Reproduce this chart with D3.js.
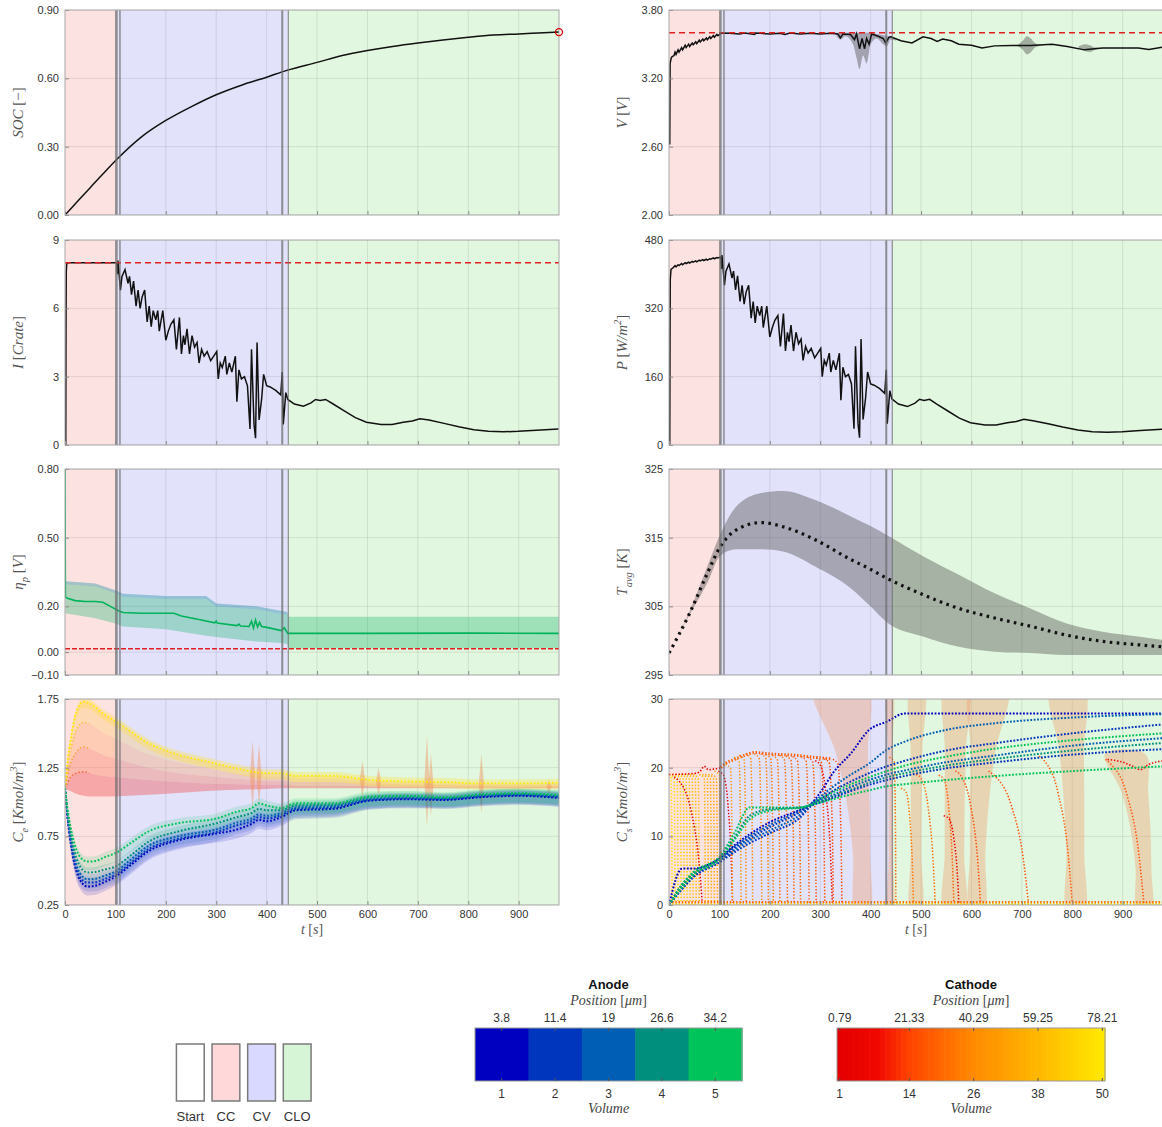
<!DOCTYPE html>
<html>
<head>
<meta charset="utf-8">
<script src="https://cdn.jsdelivr.net/npm/d3@7"></script>
<style>
body { margin: 0; background: #fff; }
</style>
</head>
<body>
<svg id="chart" width="1162" height="1127"></svg>
<script>
// ---------- data ----------
const tEnd = 980
const xTicks = [0, 100, 200, 300, 400, 500, 600, 700, 800, 900]
const phaseNames = ['CC', 'CV', 'CLO']
const phaseStart = [0, 102, 443]
const phaseEnd = [102, 443, 980]
const switchT = [102, 109, 431, 443]

// state of charge
const socT = [0, 25, 50, 75, 103, 150, 200, 250, 300, 350, 400, 440, 500, 550, 600, 650, 700, 750, 800, 850, 900, 950, 980]
const soc = [0, 0.06, 0.12, 0.18, 0.245, 0.34, 0.415, 0.475, 0.528, 0.57, 0.605, 0.635, 0.67, 0.70, 0.722, 0.74, 0.755, 0.768, 0.78, 0.79, 0.795, 0.80, 0.803]

// voltage
const vLimit = 3.60
const vT = [1.5, 1.8, 2.2, 3.5, 5, 8, 10, 12, 14, 18, 20, 25, 27, 32, 34, 39, 41, 46, 48, 53, 55, 60, 62, 67, 69, 74, 76, 81, 83, 88, 90, 95, 97, 103, 105, 120, 140, 150, 170, 172, 200, 220, 230, 240, 260, 280, 300, 320, 335, 340, 345, 360, 368, 372, 378, 383, 388, 392, 397, 402, 415, 425, 430, 436, 440, 460, 482, 504, 520, 532, 543, 560, 575, 600, 621, 646, 680, 717, 760, 790, 824, 860, 900, 931, 952, 980]
const vV = [2.62, 3.0, 3.33, 3.36, 3.385, 3.395, 3.40, 3.43, 3.41, 3.45, 3.43, 3.47, 3.45, 3.49, 3.47, 3.50, 3.48, 3.51, 3.495, 3.52, 3.505, 3.535, 3.52, 3.545, 3.53, 3.555, 3.54, 3.565, 3.55, 3.575, 3.56, 3.585, 3.575, 3.595, 3.597, 3.595, 3.59, 3.597, 3.585, 3.597, 3.59, 3.595, 3.585, 3.597, 3.59, 3.595, 3.59, 3.595, 3.59, 3.555, 3.59, 3.585, 3.54, 3.59, 3.46, 3.55, 3.46, 3.55, 3.50, 3.59, 3.57, 3.55, 3.51, 3.56, 3.565, 3.53, 3.51, 3.565, 3.55, 3.525, 3.545, 3.53, 3.50, 3.49, 3.467, 3.485, 3.488, 3.488, 3.50, 3.48, 3.45, 3.466, 3.466, 3.466, 3.453, 3.475]
const vBandT = [330, 340, 350, 365, 372, 378, 385, 392, 400, 412, 425, 432, 440, 450, null, 690, 702, 710, 718, 726, 740, null, 812, 825, 835, 845, 858]
const vBandLo = [3.59, 3.54, 3.57, 3.50, 3.38, 3.28, 3.40, 3.33, 3.50, 3.55, 3.50, 3.48, 3.54, 3.53, null, 3.488, 3.45, 3.41, 3.43, 3.47, 3.488, null, 3.47, 3.44, 3.43, 3.45, 3.466]
const vBandHi = [3.60, 3.60, 3.60, 3.60, 3.60, 3.60, 3.60, 3.60, 3.60, 3.59, 3.58, 3.57, 3.57, 3.54, null, 3.49, 3.53, 3.57, 3.55, 3.51, 3.49, null, 3.48, 3.50, 3.49, 3.47, 3.466]

// current
const iLimit = 8
const iT = [1.5, 2, 2.5, 3.5, 5, 50, 100, 103, 104, 105, 107, 110, 113, 119, 125, 128, 132, 136, 141, 145, 149, 153, 158, 163, 167, 171, 175, 180, 184, 187, 194, 200, 205, 210, 216, 221, 227, 231, 235, 238, 242, 247, 252, 257, 262, 266, 271, 276, 282, 289, 295, 301, 304, 308, 312, 318, 321, 326, 331, 335, 338, 341, 345, 350, 356, 362, 367, 370, 375, 378, 381, 385, 390, 394, 400, 407, 418, 428, 431, 433, 438, 442, 455, 473, 488, 497, 506, 517, 532, 554, 576, 598, 627, 649, 671, 689, 704, 722, 752, 781, 811, 840, 869, 899, 935, 979]
const iV = [0, 5.5, 7.6, 7.95, 8.0, 8.0, 8.0, 8.0, 7.5, 8.1, 7.6, 6.8, 7.4, 7.7, 7.1, 7.4, 6.6, 7.2, 6.1, 6.8, 6.0, 6.5, 6.8, 5.4, 6.1, 5.2, 5.9, 5.5, 5.9, 5.0, 5.9, 4.6, 5.0, 5.3, 5.5, 4.2, 5.6, 4.0, 4.8, 4.4, 5.1, 4.0, 4.8, 4.3, 4.5, 3.6, 4.2, 3.9, 4.1, 3.7, 3.9, 4.1, 2.9, 3.6, 3.4, 3.9, 3.1, 3.6, 3.2, 3.6, 3.9, 1.9, 3.3, 2.9, 3.0, 2.6, 0.7, 4.2, 0.9, 0.3, 4.5, 1.1, 2.0, 3.1, 2.6, 2.55, 2.4, 2.2, 3.2, 0.9, 2.3, 2.0, 1.8, 1.7, 1.85, 2.0, 1.95, 2.0, 1.8, 1.5, 1.2, 1.0, 0.9, 0.9, 1.0, 1.05, 1.15, 1.1, 0.95, 0.8, 0.67, 0.6, 0.58, 0.6, 0.65, 0.7]

// power density
const pT = [1.5, 2, 2.5, 4, 8, 12, 14, 18, 20, 25, 27, 32, 34, 39, 41, 46, 48, 53, 55, 60, 62, 67, 69, 74, 76, 81, 83, 88, 90, 95, 97, 103, 104, 105, 107, 110, 113, 119, 125, 128, 132, 136, 141, 145, 149, 153, 158, 163, 167, 171, 175, 180, 184, 187, 194, 200, 205, 210, 216, 221, 227, 231, 235, 238, 242, 247, 252, 257, 262, 266, 271, 276, 282, 289, 295, 301, 304, 308, 312, 318, 321, 326, 331, 335, 338, 341, 345, 350, 356, 362, 367, 370, 375, 378, 381, 385, 390, 394, 400, 407, 418, 428, 431, 433, 438, 442, 455, 473, 488, 497, 506, 517, 532, 554, 576, 598, 627, 649, 671, 689, 704, 722, 752, 781, 811, 840, 869, 899, 935, 979]
const pV = [0, 252, 387, 411, 415, 420, 417, 422, 420, 425, 422, 427, 425, 428, 426, 430, 428, 431, 429, 433, 431, 434, 432, 435, 433, 436, 435, 438, 436, 439, 438, 440, 412, 445, 418, 374, 407, 424, 391, 407, 363, 396, 336, 374, 330, 358, 374, 297, 336, 286, 325, 303, 325, 275, 325, 253, 275, 292, 303, 231, 308, 220, 264, 242, 281, 220, 264, 237, 248, 198, 231, 215, 226, 204, 215, 226, 160, 198, 187, 215, 171, 198, 176, 198, 215, 105, 182, 160, 165, 143, 38, 231, 50, 17, 248, 60, 110, 171, 143, 140, 132, 121, 176, 50, 127, 108, 96, 90, 98, 107, 104, 107, 95, 79, 63, 52, 47, 47, 52, 55, 60, 57, 50, 42, 35, 31, 30, 31, 34, 37]

// overpotential
const etaLimit = 0.015
const etaT = [0, 0.8, 5, 20, 40, 60, 75, 90, 105, 115, 150, 216, 231, 268, 297, 300, 302, 341, 345, 348, 365, 370, 374, 378, 382, 386, 390, 400, 429, 435, 442, 600, 800, 980]
const etaV = [0.80, 0.24, 0.235, 0.225, 0.221, 0.221, 0.218, 0.20, 0.182, 0.173, 0.170, 0.170, 0.158, 0.141, 0.128, 0.135, 0.127, 0.116, 0.122, 0.114, 0.112, 0.135, 0.105, 0.14, 0.11, 0.13, 0.112, 0.108, 0.094, 0.106, 0.082, 0.082, 0.083, 0.082]
const etaBandT = [0.8, 60, 100, 115, 200, 280, 300, 380, 430, 441, 443, 980]
const etaBandHi = [0.31, 0.30, 0.27, 0.255, 0.245, 0.245, 0.212, 0.20, 0.18, 0.175, 0.155, 0.155]
const etaBandLo = [0.17, 0.148, 0.125, 0.112, 0.10, 0.072, 0.066, 0.046, 0.04, 0.035, 0.017, 0.017]

// average temperature
const tempT = [0, 41, 76, 101, 133, 183, 226, 290, 361, 397, 432, 504, 575, 646, 717, 789, 860, 931, 980]
const tempAvg = [298.2, 304.0, 309.8, 313.6, 316.1, 317.2, 316.6, 314.7, 311.8, 310.5, 309.1, 306.7, 304.7, 303.3, 302.1, 300.8, 299.9, 299.4, 299.1]
const tempHi = [298.2, 304.3, 310.8, 315.4, 319.5, 321.5, 321.8, 320.5, 318.1, 316.8, 315.4, 312.3, 309.6, 306.9, 304.7, 302.5, 301.3, 300.6, 300.1]
const tempLo = [298.2, 303.8, 308.4, 312.3, 313.3, 313.3, 313.0, 310.8, 307.6, 305.2, 302.7, 300.6, 299.1, 298.4, 298.2, 297.9, 297.9, 297.9, 297.9]

// electrolyte concentration, cathode volumes 1, 14, 26, 38, 50
const ceT = [0, 5, 11, 22, 37, 48, 77, 106, 165, 224, 282, 341, 400, 429, 458, 532, 605, 679, 752, 825, 899, 980]
const ceCathVol = [1, 14, 26, 38, 50]
const ceC1 = [1.10, 1.09, 1.08, 1.06, 1.045, 1.04, 1.04, 1.042, 1.052, 1.065, 1.08, 1.09, 1.095, 1.10, 1.10, 1.10, 1.10, 1.10, 1.10, 1.10, 1.10, 1.10]
const ceC14 = [1.10, 1.14, 1.18, 1.21, 1.22, 1.21, 1.19, 1.18, 1.16, 1.145, 1.135, 1.13, 1.125, 1.125, 1.12, 1.12, 1.115, 1.115, 1.11, 1.11, 1.11, 1.11]
const ceC26 = [1.10, 1.20, 1.28, 1.36, 1.40, 1.39, 1.34, 1.31, 1.25, 1.21, 1.19, 1.17, 1.155, 1.155, 1.145, 1.145, 1.135, 1.13, 1.125, 1.12, 1.12, 1.12]
const ceC38 = [1.10, 1.25, 1.37, 1.52, 1.58, 1.57, 1.50, 1.45, 1.35, 1.29, 1.25, 1.21, 1.185, 1.185, 1.17, 1.17, 1.15, 1.14, 1.135, 1.13, 1.13, 1.13]
const ceC50 = [1.10, 1.30, 1.45, 1.65, 1.73, 1.72, 1.64, 1.575, 1.43, 1.345, 1.295, 1.245, 1.21, 1.21, 1.19, 1.19, 1.16, 1.15, 1.145, 1.135, 1.135, 1.14]
const ceSpikeT = [372, 385, 590, 622, 718, 726, 826, 960]
const ceSpikeHi = [1.45, 1.42, 1.30, 1.25, 1.48, 1.35, 1.35, 1.16]
const ceSpikeLo = [0.95, 0.98, 1.03, 1.05, 0.82, 0.90, 0.92, 1.06]
// electrolyte concentration, anode volumes 1..5
const ceAT = [0, 5, 15, 30, 45, 60, 80, 100, 130, 165, 224, 300, 341, 370, 385, 400, 429, 458, 532, 605, 679, 752, 825, 899, 980]
const ceA1 = [1.10, 0.89, 0.62, 0.43, 0.384, 0.39, 0.42, 0.456, 0.54, 0.64, 0.72, 0.77, 0.80, 0.84, 0.87, 0.86, 0.89, 0.94, 0.95, 1.01, 1.02, 1.015, 1.035, 1.045, 1.03]
const ceA2 = [1.10, 0.90, 0.64, 0.45, 0.413, 0.415, 0.44, 0.47, 0.555, 0.655, 0.73, 0.78, 0.83, 0.86, 0.89, 0.88, 0.905, 0.95, 0.96, 1.015, 1.025, 1.02, 1.04, 1.05, 1.035]
const ceA3 = [1.10, 0.91, 0.66, 0.48, 0.437, 0.44, 0.465, 0.493, 0.58, 0.68, 0.75, 0.80, 0.85, 0.88, 0.91, 0.90, 0.92, 0.96, 0.97, 1.02, 1.03, 1.025, 1.045, 1.055, 1.04]
const ceA4 = [1.10, 0.93, 0.70, 0.53, 0.486, 0.49, 0.51, 0.53, 0.61, 0.71, 0.785, 0.845, 0.89, 0.92, 0.95, 0.94, 0.94, 0.975, 0.98, 1.03, 1.04, 1.03, 1.05, 1.06, 1.045]
const ceA5 = [1.10, 0.95, 0.75, 0.60, 0.566, 0.57, 0.60, 0.627, 0.70, 0.785, 0.845, 0.88, 0.93, 0.955, 0.99, 0.975, 0.955, 0.99, 0.99, 1.04, 1.045, 1.035, 1.057, 1.064, 1.052]

// solid concentration, anode
const csAT = [0, 26, 48, 100, 130, 160, 204, 261, 280, 304, 325, 361, 397, 432, 468, 550, 650, 800, 980]
const csAnodeVol = [1, 3, 2, 5, 3, 4, 2, 5]
const csA1 = [0, 5.3, 5.3, 6.8, 8.7, 10.3, 12.2, 13.9, 14.6, 16.8, 19.2, 22.1, 25.5, 26.7, 27.9, 27.9, 27.9, 27.9, 27.9]
const csA2 = [0, 3.0, 4.6, 6.7, 8.5, 10.0, 11.8, 13.8, 14.6, 16.0, 17.2, 19.0, 20.6, 22.6, 23.8, 25.5, 26.5, 27.3, 27.8]
const csA3 = [0, 2.8, 4.4, 6.5, 8.3, 9.7, 11.5, 13.6, 14.5, 15.6, 16.6, 18.0, 19.2, 20.2, 21.0, 22.5, 23.6, 25.0, 26.3]
const csA4 = [0, 3.0, 4.8, 7.0, 10.5, 14.2, 14.2, 14.2, 14.6, 15.6, 16.4, 17.6, 18.6, 19.5, 20.3, 21.6, 22.8, 24.0, 25.0]
const csA5 = [0, 2.5, 4.2, 6.4, 8.0, 9.4, 11.0, 13.2, 14.4, 15.3, 16.0, 17.2, 18.2, 19.0, 19.6, 20.8, 21.8, 23.2, 24.3]
const csA6 = [0, 2.7, 4.5, 6.8, 9.8, 13.0, 14.0, 14.2, 14.5, 15.2, 15.8, 16.8, 17.8, 18.6, 19.2, 20.3, 21.3, 22.5, 23.6]
const csA7 = [0, 2.3, 4.0, 6.2, 7.7, 9.0, 10.6, 12.8, 14.3, 15.0, 15.6, 16.6, 17.5, 18.2, 18.8, 19.9, 20.8, 21.9, 22.7]
const csA8 = [0, 2.6, 4.4, 6.6, 9.5, 12.5, 13.8, 14.2, 14.5, 15.0, 15.4, 16.1, 16.7, 17.3, 17.6, 18.2, 18.8, 19.5, 20.2]
// solid concentration, cathode: each line holds a level, then collapses
const csDropT = [4, 10, 16, 22, 28, 34, 40, 46, 52, 58, 20, 70, 76, 82, 88, 94, 100, 108, 122, 139, 149, 162, 179, 192, 202, 215, 229, 242, 255, 272, 285, 300, 302, 318, 335, 447, 470, 500, 545, 555, 578, 644, 744, 876]
const csDropDur = [2, 2, 2, 2, 2, 2, 2, 2, 2, 2, 46, 2, 2, 2, 2, 2, 3, 18, 4, 4, 4, 4, 5, 5, 5, 5, 6, 6, 6, 6, 7, 24, 7, 8, 8, 3, 15, 28, 20, 20, 40, 69, 56, 66]
const csDropLvl = [19, 19, 19, 19, 19, 19, 19, 19, 19, 19, 18.6, 19, 19, 19, 19, 19, 19.5, 19.5, 20.5, 21.5, 21.8, 22, 22, 22, 21.9, 21.8, 21.8, 21.7, 21.6, 21.6, 21.5, 21, 21.4, 21.3, 21.2, 21.5, 17, 19, 18.9, 13, 19.5, 19.5, 21.7, 21.2]
const csDropVol = [50, 48, 46, 45, 44, 43, 42, 41, 40, 39, 1, 38, 37, 36, 35, 34, 33, 3, 30, 28, 27, 26, 25, 24, 23, 22, 21, 20, 19, 18, 17, 6, 16, 15, 14, 20, 22, 20, 18, 3, 15, 16, 18, 16]
// spread bands of the cathode lines: centre at top / bottom and width at top / bottom
const csBandTop = [340, 438, 492, 570, 635, 790, 905]
const csBandBot = [384, 440, 490, 566, 611, 807, 943]
const csBandWTop = [105, 10, 26, 45, 73, 66, 80]
const csBandWBot = [26, 8, 20, 38, 26, 32, 26]
const csBandYTop = [30, 30, 30, 30, 30, 30, 22]
const csTopCCT = [0, 55, 62, 70, 78, 90, 103]
const csTopCCV = [19, 19.2, 19.5, 20.2, 19.7, 19.8, 20.0]
const csTopCVT = [103, 110, 130, 150, 170, 200, 250, 290, 320]
const csTopCVV = [20.0, 20.5, 21.2, 21.8, 22.2, 22.0, 21.8, 21.5, 21.3]
const csRedT = [870, 900, 920, 935, 950, 980]
const csRedV = [21.2, 20.8, 20.2, 19.7, 20.4, 21.0]
const csFloorT = [0, 980]
const csFloorA = [0.4, 0.4]
const csFloorB = [0.15, 0.15]

// legends
const legendNames = ['Start', 'CC', 'CV', 'CLO']
const anodeVol = [1, 2, 3, 4, 5]
const anodePos = ['3.8', '11.4', '19', '26.6', '34.2']
const cathVols = d3.range(1, 51)
const cathTickVol = [1, 14, 26, 38, 50]
const cathPos = ['0.79', '21.33', '40.29', '59.25', '78.21']

// ---------- styles ----------
const sans = "'Liberation Sans', Arial, sans-serif"
const serif = "'Liberation Serif', 'Times New Roman', serif"
const bgFill = ['#fde2e2', '#e2e2fb', '#e2f7df']
const legendFill = ['#ffffff', '#ffd9d9', '#d9d9ff', '#d6f5d6']
const swWidth = [2.5, 1.5, 2, 1.2]
const anodeColor = ['#0000c0', '#0035bd', '#005fb5', '#008f7c', '#00c35a']
const cathColor = d3.scaleLinear()
    .domain([1, 8, 14, 26, 38, 50])
    .range(['#e40000', '#f00800', '#ff4400', '#ff8a00', '#ffb800', '#ffe800'])
const ceFill = ['#f06060', '#f88060', '#ffa060', '#ffc860']
const ceFillOpacity = [0.45, 0.4, 0.35, 0.35]

const svg = d3.select('#chart')
const panelW = 494
const colX = [65, 669]
const rowY = [[10, 215], [240, 445], [469, 675], [699, 905]]

function makePanel(col, row, yDomain, yTicks) {
    const top = rowY[row][0]
    const bottom = rowY[row][1]
    const left = colX[col]
    const x = d3.scaleLinear().domain([0, tEnd]).range([left, left + panelW])
    const y = d3.scaleLinear().domain(yDomain).range([bottom, top])
    const g = svg.append('g')
    const id = 'clip-' + col + '-' + row
    g.append('clipPath').attr('id', id).append('rect')
        .attr('x', left).attr('y', top).attr('width', panelW).attr('height', bottom - top)
    const body = g.append('g').attr('clip-path', 'url(#' + id + ')')
    body.append('g').selectAll('rect').data(phaseStart).join('rect')
        .attr('x', (d) => x(d))
        .attr('width', (d, i) => x(phaseEnd[i]) - x(d))
        .attr('y', top).attr('height', bottom - top)
        .attr('fill', (d, i) => bgFill[i])
    const grid = body.append('g').attr('stroke', '#000').attr('stroke-opacity', 0.09)
    grid.selectAll('line.gx').data(xTicks.slice(1)).join('line')
        .attr('x1', (d) => x(d)).attr('x2', (d) => x(d))
        .attr('y1', top).attr('y2', bottom)
    grid.selectAll('line.gy').data(yTicks).join('line')
        .attr('y1', (d) => y(d)).attr('y2', (d) => y(d))
        .attr('x1', left).attr('x2', left + panelW)
    return { x, y, g, body, top, bottom, left, col, row, yTicks }
}

function mathText(text, parts, size) {
    let shift = 0
    parts.forEach(([s, st]) => {
        const ts = text.append('tspan').text(s)
        let target = 0
        if (st === 'sub') target = size * 0.3
        if (st === 'sup') target = -size * 0.4
        if (target - shift !== 0) ts.attr('dy', target - shift)
        shift = target
        ts.attr('font-style', st === 'n' ? 'normal' : 'italic')
        if (st === 'sub' || st === 'sup') ts.attr('font-size', size * 0.7)
    })
}

function finishPanel(p, fmt, label, showX) {
    p.body.append('g').selectAll('line').data(switchT).join('line')
        .attr('x1', (d) => p.x(d)).attr('x2', (d) => p.x(d))
        .attr('y1', p.top).attr('y2', p.bottom)
        .attr('stroke', '#6e6e6e').attr('stroke-opacity', 0.75)
        .attr('stroke-width', (d, i) => swWidth[i])

    const ay = p.g.append('g').attr('transform', 'translate(' + p.left + ',0)')
        .call(d3.axisLeft(p.y).tickValues(p.yTicks).tickFormat(fmt).tickSizeInner(-4).tickSizeOuter(0).tickPadding(6))
    ay.select('.domain').remove()
    ay.selectAll('line').attr('stroke', '#8a8a8a')
    ay.selectAll('text').attr('font-family', sans).attr('font-size', 11).attr('fill', '#333')

    const ax = p.g.append('g').attr('transform', 'translate(0,' + p.bottom + ')')
        .call(d3.axisBottom(p.x).tickValues(xTicks)
            .tickFormat(showX ? d3.format('d') : () => '')
            .tickSizeInner(-4).tickSizeOuter(0).tickPadding(5))
    ax.select('.domain').remove()
    ax.selectAll('line').attr('stroke', '#8a8a8a')
    ax.selectAll('text').attr('font-family', sans).attr('font-size', 11).attr('fill', '#333')

    p.g.append('rect')
        .attr('x', p.left).attr('y', p.top)
        .attr('width', panelW).attr('height', p.bottom - p.top)
        .attr('fill', 'none').attr('stroke', '#a8a8a8').attr('stroke-width', 1)

    const lt = p.g.append('text')
        .attr('transform', 'translate(' + (p.left - 42) + ',' + ((p.top + p.bottom) / 2) + ') rotate(-90)')
        .attr('text-anchor', 'middle')
        .attr('font-family', serif).attr('font-size', 15).attr('fill', '#555')
    mathText(lt, label, 15)

    if (showX) {
        const xt = p.g.append('text')
            .attr('x', p.left + panelW / 2).attr('y', p.bottom + 29)
            .attr('text-anchor', 'middle')
            .attr('font-family', serif).attr('font-size', 14).attr('fill', '#555')
        mathText(xt, [['t', 'i'], [' [', 'n'], ['s', 'i'], [']', 'n']], 14)
    }
}

function zip(ts, vs) {
    return ts.map((t, i) => [t, vs[i]])
}

function hLine(p, value, dash) {
    p.body.append('path')
        .datum([[0, value], [tEnd, value]])
        .attr('d', d3.line().x((d) => p.x(d[0])).y((d) => p.y(d[1])))
        .attr('fill', 'none').attr('stroke', '#e02020')
        .attr('stroke-width', 1.5).attr('stroke-dasharray', dash)
}

const f2 = d3.format('.2f')
const f0 = d3.format('d')

// ---------- SOC ----------
{
    const p = makePanel(0, 0, [0, 0.9], [0, 0.3, 0.6, 0.9])
    const line = d3.line().x((d) => p.x(d[0])).y((d) => p.y(d[1])).curve(d3.curveMonotoneX)
    p.body.append('path').datum(zip(socT, soc)).attr('d', line)
        .attr('fill', 'none').attr('stroke', '#111').attr('stroke-width', 1.5)
    finishPanel(p, f2, [['SOC', 'i'], [' [', 'n'], ['\u2212', 'n'], [']', 'n']], false)
    p.g.append('circle')
        .attr('cx', p.x(socT[socT.length - 1])).attr('cy', p.y(soc[soc.length - 1]))
        .attr('r', 3.5).attr('fill', 'none').attr('stroke', '#e00000').attr('stroke-width', 1.3)
}

// ---------- V ----------
{
    const p = makePanel(1, 0, [2.0, 3.8], [2.0, 2.6, 3.2, 3.8])
    const area = d3.area().defined((d) => d[0] !== null)
        .x((d) => p.x(d[0])).y0((d) => p.y(d[1])).y1((d) => p.y(d[2])).curve(d3.curveMonotoneX)
    p.body.append('path').datum(vBandT.map((t, i) => [t, vBandLo[i], vBandHi[i]])).attr('d', area)
        .attr('fill', '#3a3a3a').attr('fill-opacity', 0.38)
    const line = d3.line().x((d) => p.x(d[0])).y((d) => p.y(d[1]))
    p.body.append('path').datum(zip(vT, vV)).attr('d', line)
        .attr('fill', 'none').attr('stroke', '#111').attr('stroke-width', 1.5)
    hLine(p, vLimit, '6,4')
    finishPanel(p, f2, [['V', 'i'], [' [', 'n'], ['V', 'i'], [']', 'n']], false)
}

// ---------- I ----------
{
    const p = makePanel(0, 1, [0, 9], [0, 3, 6, 9])
    const line = d3.line().x((d) => p.x(d[0])).y((d) => p.y(d[1]))
    p.body.append('path').datum(zip(iT, iV)).attr('d', line)
        .attr('fill', 'none').attr('stroke', '#111').attr('stroke-width', 1.5)
    hLine(p, iLimit, '6,4')
    finishPanel(p, f0, [['I', 'i'], [' [', 'n'], ['Crate', 'i'], [']', 'n']], false)
}

// ---------- P ----------
{
    const p = makePanel(1, 1, [0, 480], [0, 160, 320, 480])
    const line = d3.line().x((d) => p.x(d[0])).y((d) => p.y(d[1]))
    p.body.append('path').datum(zip(pT, pV)).attr('d', line)
        .attr('fill', 'none').attr('stroke', '#111').attr('stroke-width', 1.5)
    finishPanel(p, f0, [['P', 'i'], [' [', 'n'], ['W/m', 'i'], ['2', 'sup'], [']', 'n']], false)
}

// ---------- eta ----------
{
    const p = makePanel(0, 2, [-0.1, 0.8], [-0.1, 0, 0.2, 0.5, 0.8])
    const band = etaBandT.map((t, i) => [t, etaBandLo[i], etaBandHi[i]])
    const area = d3.area().x((d) => p.x(d[0])).y0((d) => p.y(d[1])).y1((d) => p.y(d[2]))
    p.body.append('path').datum(band).attr('d', area)
        .attr('fill', '#00b060').attr('fill-opacity', 0.3)
    const fringe = d3.area().x((d) => p.x(d[0])).y0((d) => p.y(d[2]) + 3).y1((d) => p.y(d[2]))
    p.body.append('path').datum(band.filter((d) => d[0] < 443)).attr('d', fringe)
        .attr('fill', '#6a70ff').attr('fill-opacity', 0.18)
    const line = d3.line().x((d) => p.x(d[0])).y((d) => p.y(d[1]))
    p.body.append('path').datum(zip(etaT, etaV)).attr('d', line)
        .attr('fill', 'none').attr('stroke', '#00b35a').attr('stroke-width', 1.6)
    hLine(p, etaLimit, '5,2')
    finishPanel(p, f2, [['\u03B7', 'i'], ['p', 'sub'], [' [', 'n'], ['V', 'i'], [']', 'n']], false)
}

// ---------- T ----------
{
    const p = makePanel(1, 2, [295, 325], [295, 305, 315, 325])
    const area = d3.area().x((d, i) => p.x(tempT[i])).y0((d, i) => p.y(tempLo[i])).y1((d, i) => p.y(tempHi[i]))
        .curve(d3.curveMonotoneX)
    p.body.append('path').datum(tempT).attr('d', area)
        .attr('fill', '#4a4a4a').attr('fill-opacity', 0.4)
    const line = d3.line().x((d) => p.x(d[0])).y((d) => p.y(d[1])).curve(d3.curveMonotoneX)
    p.body.append('path').datum(zip(tempT, tempAvg)).attr('d', line)
        .attr('fill', 'none').attr('stroke', '#111').attr('stroke-width', 3.2)
        .attr('stroke-dasharray', '2.6,4.4')
    finishPanel(p, f0, [['T', 'i'], ['avg', 'sub'], [' [', 'n'], ['K', 'i'], [']', 'n']], false)
}

// ---------- Ce ----------
{
    const p = makePanel(0, 3, [0.25, 1.75], [0.25, 0.75, 1.25, 1.75])
    const cath = [ceC1, ceC14, ceC26, ceC38, ceC50]
    const between = (lo, hi) => d3.area().x((d, i) => p.x(ceT[i]))
        .y0((d, i) => p.y(lo[i])).y1((d, i) => p.y(hi[i])).curve(d3.curveMonotoneX)
    for (let k = 0; k < cath.length - 1; k++) {
        p.body.append('path').datum(ceT).attr('d', between(cath[k], cath[k + 1]))
            .attr('fill', ceFill[k]).attr('fill-opacity', ceFillOpacity[k])
    }
    const topBand = d3.area().x((d, i) => p.x(ceT[i]))
        .y0((d, i) => p.y(ceC50[i]) + 6).y1((d, i) => p.y(ceC50[i]) - 4).curve(d3.curveMonotoneX)
    p.body.append('path').datum(ceT).attr('d', topBand)
        .attr('fill', '#ffe040').attr('fill-opacity', 0.35)
    p.body.append('g').selectAll('path').data(ceSpikeT).join('path')
        .attr('d', (t, i) => {
            const mid = (ceSpikeHi[i] + ceSpikeLo[i]) / 2
            return 'M' + p.x(t - 5) + ',' + p.y(mid) + 'L' + p.x(t) + ',' + p.y(ceSpikeHi[i]) +
                'L' + p.x(t + 5) + ',' + p.y(mid) + 'L' + p.x(t) + ',' + p.y(ceSpikeLo[i]) + 'Z'
        })
        .attr('fill', '#f0905a').attr('fill-opacity', 0.45)
    const line = d3.line().x((d) => p.x(d[0])).y((d) => p.y(d[1])).curve(d3.curveMonotoneX)
    // early fan of the cathode volumes, then the outermost volume only
    cath.slice(1, 4).forEach((arr, k) => {
        p.body.append('path').datum(zip(ceT, arr).filter((d) => d[0] <= 48)).attr('d', line)
            .attr('fill', 'none').attr('stroke', cathColor(ceCathVol[k + 1]))
            .attr('stroke-width', 1.6).attr('stroke-dasharray', '1.6,2').attr('stroke-opacity', 0.6)
    })
    p.body.append('path').datum(zip(ceT, ceC50)).attr('d', line)
        .attr('fill', 'none').attr('stroke', cathColor(50))
        .attr('stroke-width', 1.8).attr('stroke-dasharray', '1.6,2')
    const anode = [ceA1, ceA2, ceA3, ceA4, ceA5]
    anode.forEach((arr, k) => {
        const band = d3.area().x((d, i) => p.x(ceAT[i]))
            .y0((d, i) => p.y(arr[i]) + 9).y1((d, i) => p.y(arr[i]) - 5).curve(d3.curveMonotoneX)
        p.body.append('path').datum(ceAT).attr('d', band)
            .attr('fill', anodeColor[k]).attr('fill-opacity', 0.14)
    })
    anode.forEach((arr, k) => {
        p.body.append('path').datum(zip(ceAT, arr)).attr('d', line)
            .attr('fill', 'none').attr('stroke', anodeColor[k])
            .attr('stroke-width', 2).attr('stroke-dasharray', '1.8,1.8')
    })
    finishPanel(p, f2, [['C', 'i'], ['e', 'sub'], [' [', 'n'], ['Kmol/m', 'i'], ['3', 'sup'], [']', 'n']], true)
}

// ---------- Cs ----------
{
    const p = makePanel(1, 3, [0, 30], [0, 10, 20, 30])
    const poly = d3.line().x((d) => p.x(d[0])).y((d) => p.y(d[1])).curve(d3.curveCatmullRomClosed.alpha(0.5))
    const rowF = [0, 0.25, 0.5, 0.75, 1]
    const shiftF = [0, 0.5, 0.8, 0.95, 1]
    const widthF = [1, 0.5, 0.25, 0.1, 0]
    p.body.append('g').selectAll('path').data(csBandTop).join('path')
        .attr('d', (t0, i) => {
            const t1 = csBandBot[i]
            const rows = rowF.map((f, k) => {
                const c = t0 + shiftF[k] * (t1 - t0)
                const h = (csBandWBot[i] + widthF[k] * (csBandWTop[i] - csBandWBot[i])) / 2
                // end rows pushed past the frame so the clip gives straight edges
                const yy = k === 0 && csBandYTop[i] === 30 ? 31.5 : (k === 4 ? -1.5 : csBandYTop[i] * (1 - f))
                return [c - h, c + h, yy]
            })
            const pts = rows.map((r) => [r[0], r[2]]).concat(rows.slice().reverse().map((r) => [r[1], r[2]]))
            return poly(pts)
        })
        .attr('fill', '#f0a070').attr('fill-opacity', 0.4)

    const curve = d3.line().x((d) => p.x(d[0])).y((d) => p.y(d[1])).curve(d3.curveMonotoneX)
    p.body.append('g').selectAll('path').data(csDropT).join('path')
        .attr('d', (t0, i) => {
            const d = csDropDur[i]
            const lvl = csDropLvl[i]
            return curve([[Math.max(0, t0 - 10), lvl], [t0, lvl * 0.97], [t0 + 0.5 * d, lvl * 0.75],
                [t0 + 0.85 * d, lvl * 0.35], [t0 + d, 0.3]])
        })
        .attr('fill', 'none').attr('stroke', (t0, i) => cathColor(csDropVol[i]))
        .attr('stroke-width', 1.5).attr('stroke-dasharray', '1.4,1.8')

    const dotted = (ts, vs, color, w) => p.body.append('path').datum(zip(ts, vs)).attr('d', curve)
        .attr('fill', 'none').attr('stroke', color)
        .attr('stroke-width', w).attr('stroke-dasharray', '1.4,1.8')
    dotted(csTopCCT, csTopCCV, cathColor(1), 1.6)
    dotted(csTopCVT, csTopCVV, cathColor(18), 3)
    dotted(csRedT, csRedV, cathColor(6), 1.6)
    dotted(csFloorT, csFloorA, cathColor(20), 2.5)
    dotted(csFloorT, csFloorB, cathColor(45), 2)

    const anode = [csA1, csA2, csA3, csA4, csA5, csA6, csA7, csA8]
    anode.forEach((arr, k) => {
        p.body.append('path').datum(zip(csAT, arr)).attr('d', curve)
            .attr('fill', 'none').attr('stroke', anodeColor[csAnodeVol[k] - 1])
            .attr('stroke-width', 2).attr('stroke-dasharray', '1.8,1.6')
    })
    finishPanel(p, f0, [['C', 'i'], ['s', 'sub'], [' [', 'n'], ['Kmol/m', 'i'], ['3', 'sup'], [']', 'n']], true)
}

// ---------- phase legend ----------
{
    const lx = d3.scaleBand().domain(legendNames).range([172.5, 315]).paddingInner(0.22).paddingOuter(0.11)
    const lg = svg.append('g')
    lg.selectAll('rect').data(legendNames).join('rect')
        .attr('x', (d) => lx(d)).attr('width', lx.bandwidth())
        .attr('y', 1044).attr('height', 57)
        .attr('fill', (d, i) => legendFill[i])
        .attr('stroke', '#7a7a7a').attr('stroke-width', 1.5)
    lg.selectAll('text').data(legendNames).join('text')
        .attr('x', (d) => lx(d) + lx.bandwidth() / 2).attr('y', 1121)
        .attr('text-anchor', 'middle')
        .attr('font-family', sans).attr('font-size', 13).attr('fill', '#333')
        .text((d) => d)
}

// ---------- colour bars ----------
function colorBar(x0, x1, vols, colorOf, tickVols, topLabels, title) {
    const bx = d3.scaleBand().domain(vols).range([x0, x1])
    const cx = (v) => bx(v) + bx.bandwidth() / 2
    const cg = svg.append('g')
    const cmid = (x0 + x1) / 2
    cg.append('text').attr('x', cmid).attr('y', 989).attr('text-anchor', 'middle')
        .attr('font-family', sans).attr('font-size', 13).attr('font-weight', 'bold').attr('fill', '#111')
        .text(title)
    const pos = cg.append('text').attr('x', cmid).attr('y', 1005).attr('text-anchor', 'middle')
        .attr('font-family', serif).attr('font-size', 14).attr('fill', '#444')
    mathText(pos, [['Position', 'i'], [' [', 'n'], ['\u03BCm', 'i'], [']', 'n']], 14)
    cg.append('g').selectAll('rect').data(vols).join('rect')
        .attr('x', (d) => bx(d)).attr('width', bx.bandwidth() + 0.6)
        .attr('y', 1028).attr('height', 53)
        .attr('fill', (d) => colorOf(d))
    cg.append('rect').attr('x', x0).attr('y', 1028).attr('width', x1 - x0).attr('height', 53)
        .attr('fill', 'none').attr('stroke', '#9a9a9a')
    cg.append('g').selectAll('line').data(tickVols).join('line')
        .attr('x1', cx).attr('x2', cx).attr('y1', 1028).attr('y2', 1031)
        .attr('stroke', '#555')
    cg.append('g').selectAll('line').data(tickVols).join('line')
        .attr('x1', cx).attr('x2', cx).attr('y1', 1078).attr('y2', 1081)
        .attr('stroke', '#555')
    cg.append('g').selectAll('text').data(tickVols).join('text')
        .attr('x', cx).attr('y', 1022).attr('text-anchor', 'middle')
        .attr('font-family', sans).attr('font-size', 12).attr('fill', '#333')
        .text((d, i) => topLabels[i])
    cg.append('g').selectAll('text').data(tickVols).join('text')
        .attr('x', cx).attr('y', 1098).attr('text-anchor', 'middle')
        .attr('font-family', sans).attr('font-size', 12).attr('fill', '#333')
        .text((d) => d)
    const vt = cg.append('text').attr('x', cmid).attr('y', 1113).attr('text-anchor', 'middle')
        .attr('font-family', serif).attr('font-size', 14).attr('fill', '#444')
    mathText(vt, [['Volume', 'i']], 14)
}
colorBar(475, 742, anodeVol, (v) => anodeColor[v - 1], anodeVol, anodePos, 'Anode')
colorBar(837, 1105, cathVols, (v) => cathColor(v), cathTickVol, cathPos, 'Cathode')
</script>
</body>
</html>
